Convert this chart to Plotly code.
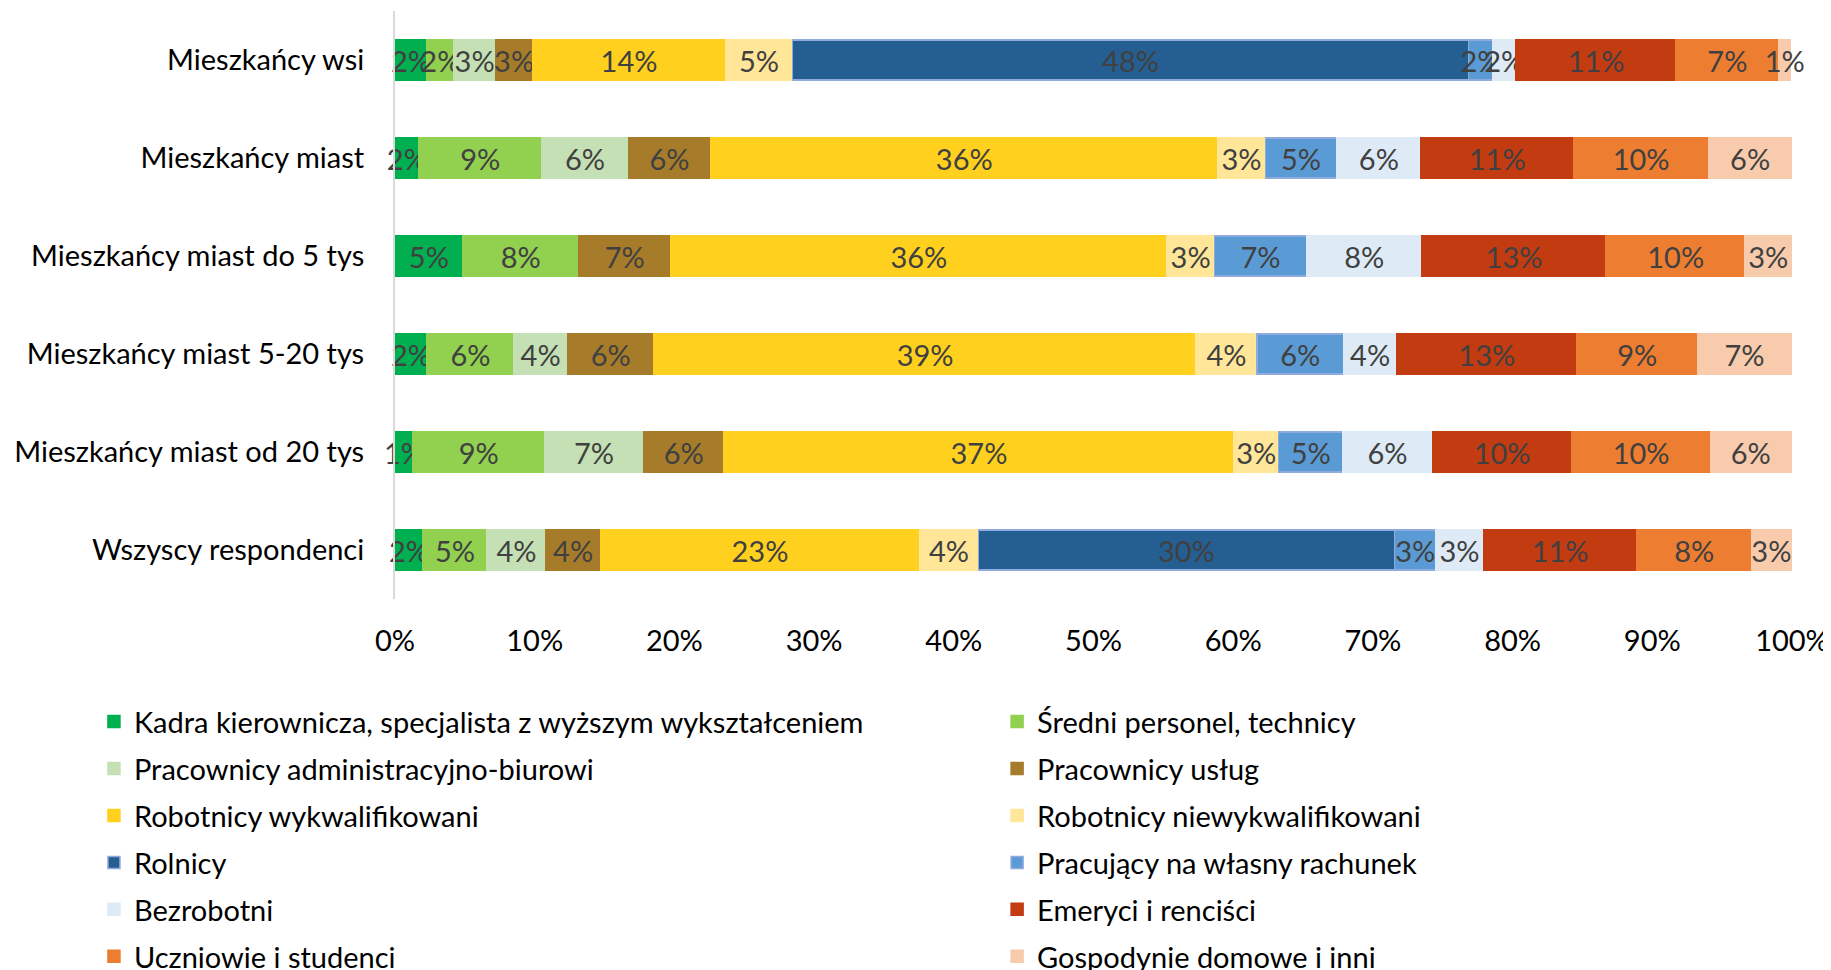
import plotly.graph_objects as go

# categories, top to bottom
groups = ['Mieszkańcy wsi', 'Mieszkańcy miast', 'Mieszkańcy miast do 5 tys',
          'Mieszkańcy miast 5-20 tys', 'Mieszkańcy miast od 20 tys', 'Wszyscy respondenci']

# share of each group (%)
kadra = [2.3, 1.7, 4.85, 2.3, 1.3, 2.0]
sredni = [1.9, 8.8, 8.3, 6.2, 9.4, 4.6]
admin = [3.0, 6.2, None, 3.85, 7.1, 4.2]
uslug = [2.65, 5.9, 6.6, 6.2, 5.75, 3.9]
wykw = [13.8, 36.3, 35.5, 38.8, 36.5, 22.85]
niewykw = [4.8, 3.4, 3.4, 4.35, 3.2, 4.2]
rolnicy = [48.4, None, None, None, None, 29.8]
wlasny = [1.7, 5.1, 6.6, 6.2, 4.6, 2.95]
bezrob = [1.7, 6.05, 8.25, 3.8, 6.4, 3.4]
emeryci = [11.45, 10.9, 13.2, 12.9, 10.0, 11.0]
uczniowie = [7.35, 9.7, 9.95, 8.65, 9.9, 8.2]
gospodynie = [0.85, 5.9, 3.3, 6.7, 5.8, 2.85]

x_ticks = list(range(0, 101, 10))
x_labels = ['%d%%' % v for v in x_ticks]

series = [
    ('Kadra kierownicza, specjalista z wyższym wykształceniem', kadra, '#00B050'),
    ('Średni personel, technicy', sredni, '#92D050'),
    ('Pracownicy administracyjno-biurowi', admin, '#C5E0B4'),
    ('Pracownicy usług', uslug, '#A67C2A'),
    ('Robotnicy wykwalifikowani', wykw, '#FFD11E'),
    ('Robotnicy niewykwalifikowani', niewykw, '#FFE699'),
    ('Rolnicy', rolnicy, '#255E91'),
    ('Pracujący na własny rachunek', wlasny, '#5B9BD5'),
    ('Bezrobotni', bezrob, '#DEEBF7'),
    ('Emeryci i renciści', emeryci, '#C33B11'),
    ('Uczniowie i studenci', uczniowie, '#ED7D31'),
    ('Gospodynie domowe i inni', gospodynie, '#F8CBAD'),
]

FONT = 'Lato'
fig = go.Figure()
layout_legends = {}

for i, (name, vals, color) in enumerate(series):
    leg = 'legend' if i == 0 else 'legend%d' % (i + 1)
    line_color = '#8FAADC' if name in ('Rolnicy', 'Pracujący na własny rachunek') else color
    fig.add_trace(go.Bar(
        name=name, y=groups, x=vals, orientation='h',
        marker=dict(color=color, line=dict(color=line_color, width=1.5)),
        width=0.405,
        texttemplate='%{x:.0f}%', textposition='inside', insidetextanchor='middle',
        constraintext='none', textangle=0, cliponaxis=False,
        textfont=dict(family=FONT, size=29, color='#404040'),
        legend=leg,
    ))
    # two legend columns, six rows
    row, col = divmod(i, 2)
    layout_legends[leg] = dict(
        x=-0.2155 if col == 0 else 0.431,
        y=-0.2085 - row * 0.0799,
        xanchor='left', yanchor='middle', orientation='h',
        font=dict(family=FONT, size=29, color='#000000'),
        bgcolor='rgba(0,0,0,0)',
    )

# page body has an 8px margin, so the figure is 8px smaller each way
fig.update_layout(
    barmode='stack',
    width=1823, height=962,
    margin=dict(l=387, r=39, t=3, b=371, autoexpand=False),
    paper_bgcolor='white', plot_bgcolor='white',
    font=dict(family=FONT, color='#000000'),
    showlegend=True,
    **layout_legends,
)
fig.update_xaxes(
    range=[0, 100], tickmode='array', tickvals=x_ticks, ticktext=x_labels,
    showgrid=False, zeroline=False, showline=False, automargin=False,
    tickfont=dict(family=FONT, size=29, color='#000000'),
    ticklabelstandoff=22,
)
fig.update_yaxes(
    autorange='reversed', showgrid=False, zeroline=False, automargin=False,
    showline=True, linecolor='#D9D9D9', linewidth=2,
    tickfont=dict(family=FONT, size=29, color='#000000'),
    ticklabelstandoff=23,
)

fig.write_html('out.html')
